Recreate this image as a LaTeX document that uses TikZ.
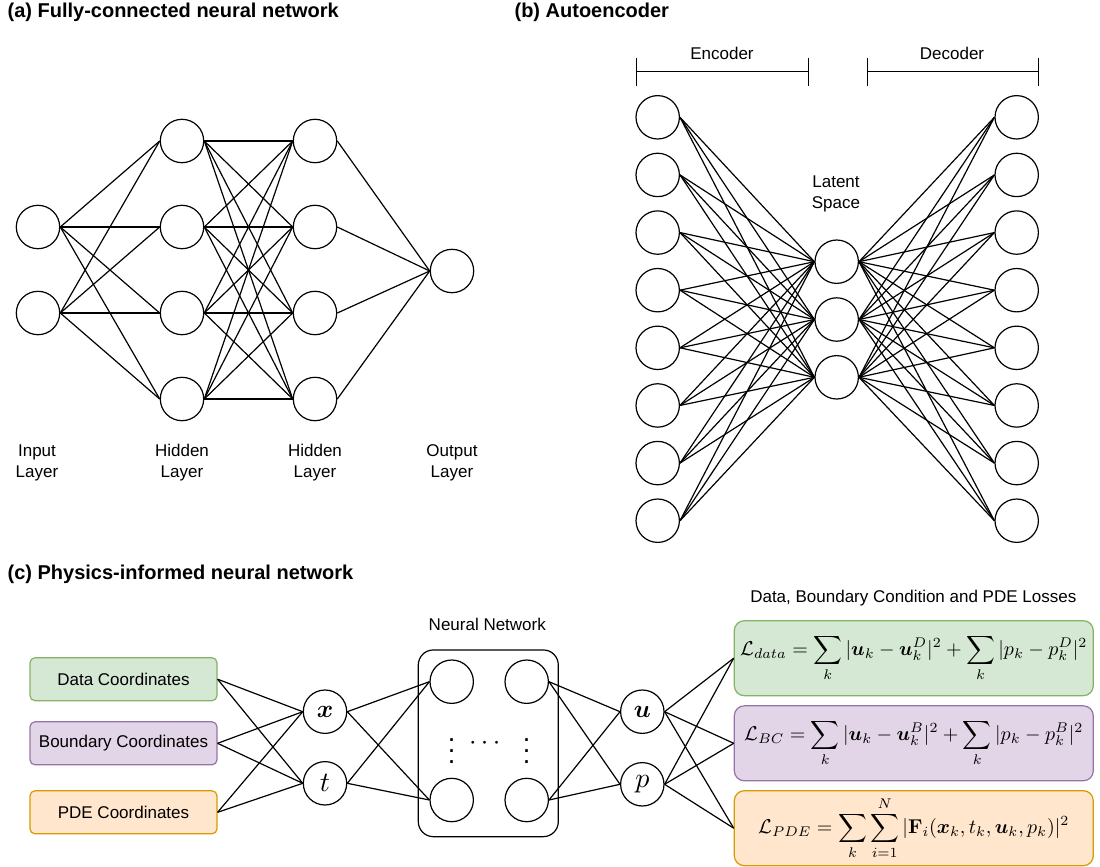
\RequirePackage{fix-cm}
\documentclass[tikz,border=0pt]{standalone}
\usepackage{amsmath}
\usepackage{amssymb}
\usepackage{bm}
\usepackage{graphicx}
\usepackage[no-math]{fontspec}
\setmainfont{Liberation Sans}
\usetikzlibrary{arrows.meta}
\definecolor{greenfill}{HTML}{D5E8D4}
\definecolor{greenline}{HTML}{82B366}
\definecolor{purplefill}{HTML}{E1D5E7}
\definecolor{purpleline}{HTML}{9673A6}
\definecolor{orangefill}{HTML}{FFE6CC}
\definecolor{orangeline}{HTML}{D79B00}

\begin{document}
\begin{tikzpicture}[x=1pt,y=-1pt,line width=1.2pt,
  font=\fontsize{17}{21}\selectfont,
  neuron/.style={circle,draw,minimum size=43.4pt,inner sep=0pt,font=\normalsize},
  heading/.style={anchor=base west,inner sep=0pt,font=\fontsize{20}{24}\selectfont\bfseries},
  layertext/.style={align=center,inner sep=0pt},
  coordbox/.style={draw,rounded corners=5pt,minimum width=187pt,minimum height=43pt},
  lossbox/.style={draw,rounded corners=10pt,minimum width=359pt,minimum height=75pt,font=\normalsize},
  bracket/.style={{Bar[width=28pt]}-{Bar[width=28pt]}},
  dotstext/.style={inner sep=0pt,font=\normalsize}]
\useasboundingbox (0,0) rectangle (1100,867);

\node[heading] at (7,18) {(a) Fully-connected neural network};
\node[heading] at (514,18) {(b) Autoencoder};
\node[heading] at (7,579) {(c) Physics-informed neural network};

\node[neuron] (in1) at (38,227) {};
\node[neuron] (in2) at (38,313) {};
\node[neuron] (ha1) at (182,141) {};
\node[neuron] (ha2) at (182,227) {};
\node[neuron] (ha3) at (182,313) {};
\node[neuron] (ha4) at (182,399) {};
\node[neuron] (hb1) at (315,141) {};
\node[neuron] (hb2) at (315,227) {};
\node[neuron] (hb3) at (315,313) {};
\node[neuron] (hb4) at (315,399) {};
\node[neuron] (out) at (452,271) {};

\foreach \a in {in1,in2} \foreach \b in {ha1,ha2,ha3,ha4} \draw (\a.east) -- (\b.west);
\foreach \a in {ha1,ha2,ha3,ha4} \foreach \b in {hb1,hb2,hb3,hb4} \draw (\a.east) -- (\b.west);
\foreach \a in {hb1,hb2,hb3,hb4} \draw (\a.east) -- (out.west);

\node[layertext] (inlab) at (37,462.5) {Input\\Layer};
\node[layertext] (halab) at (182,462.5) {Hidden\\Layer};
\node[layertext] (hblab) at (315,462.5) {Hidden\\Layer};
\node[layertext] (outlab) at (452,462.5) {Output\\Layer};

\foreach \k in {1,...,8} {
  \node[neuron] (enc\k) at (657.7,{117.3+57.63*(\k-1)}) {};
  \node[neuron] (dec\k) at (1016.7,{117.3+57.63*(\k-1)}) {};
}
\node[neuron] (lat1) at (836.7,261.7) {};
\node[neuron] (lat2) at (836.7,319.5) {};
\node[neuron] (lat3) at (836.7,377.3) {};

\foreach \k in {1,...,8} \foreach \m in {1,2,3} {
  \draw (enc\k.east) -- (lat\m.west);
  \draw (lat\m.east) -- (dec\k.west);
}

\coordinate (encl) at (636,71.7);
\coordinate (encr) at (809,71.7);
\coordinate (decl) at (866.7,71.7);
\coordinate (decr) at (1039.3,71.7);
\draw[bracket] (encl) -- (encr);
\draw[bracket] (decl) -- (decr);
\node (enclab) at (722,53) {Encoder};
\node (declab) at (952,53) {Decoder};
\node[layertext] (latlab) at (836,194) {Latent\\Space};

\node[coordbox,fill=greenfill,draw=greenline] (cdata) at (123.5,679.2) {Data Coordinates};
\node[coordbox,fill=purplefill,draw=purpleline] (cbound) at (123.5,743.3) {Boundary Coordinates};
\node[coordbox,fill=orangefill,draw=orangeline] (cpde) at (123.5,812.3) {PDE Coordinates};

\node[neuron] (x) at (325,711.7) {\scalebox{2.5}{$\bm{x}$}};
\node[neuron] (t) at (325,783.3) {\scalebox{2.8}{$t$}};

\node[draw,rounded corners=15pt,minimum width=140pt,minimum height=186.7pt] (nnbox) at (488.3,743.3) {};
\node[neuron] (nn1) at (451.7,681.7) {};
\node[neuron] (nn2) at (526.7,681.7) {};
\node[neuron] (nn3) at (451.7,800) {};
\node[neuron] (nn4) at (526.7,800) {};
\node[dotstext] (vd1) at (451.7,743) {\scalebox{2.7}{$\vdots$}};
\node[dotstext] (hd) at (487,743) {\scalebox{2.7}{$\cdots$}};
\node[dotstext] (vd2) at (526.7,743) {\scalebox{2.7}{$\vdots$}};
\node (nnlab) at (487.3,624) {Neural Network};

\node[neuron] (u) at (642.3,711.7) {\scalebox{2.5}{$\bm{u}$}};
\node[neuron] (p) at (642.3,784.3) {\scalebox{2.8}{$p$}};

\node (losslab) at (913.3,598.3) {Data, Boundary Condition and PDE Losses};
\node[lossbox,fill=greenfill,draw=greenline] (ldata) at (913.8,658.2)
  {\scalebox{2.0}{$\displaystyle \mathcal{L}_{data} = \sum_k |\bm{u}_k - \bm{u}_k^D|^2 + \sum_k |p_k - p_k^D|^2$}};
\node[lossbox,fill=purplefill,draw=purpleline] (lbc) at (913.8,743.3)
  {\scalebox{2.0}{$\displaystyle \mathcal{L}_{BC} = \sum_k |\bm{u}_k - \bm{u}_k^B|^2 + \sum_k |p_k - p_k^B|^2$}};
\node[lossbox,fill=orangefill,draw=orangeline] (lpde) at (913.8,828.2)
  {\scalebox{2.0}{$\displaystyle \mathcal{L}_{PDE} = \sum_k \sum_{i=1}^N |\mathbf{F}_i(\bm{x}_k, t_k, \bm{u}_k, p_k)|^2$}};

\foreach \a in {cdata,cbound,cpde} \foreach \b in {x,t} \draw (\a.east) -- (\b.west);
\foreach \a in {x,t} \foreach \b in {nn1,nn3} \draw (\a.east) -- (\b.west);
\foreach \a in {nn2,nn4} \foreach \b in {u,p} \draw (\a.east) -- (\b.west);
\foreach \a in {u,p} \foreach \b in {ldata,lbc,lpde} \draw (\a.east) -- (\b.west);

\end{tikzpicture}
\end{document}
